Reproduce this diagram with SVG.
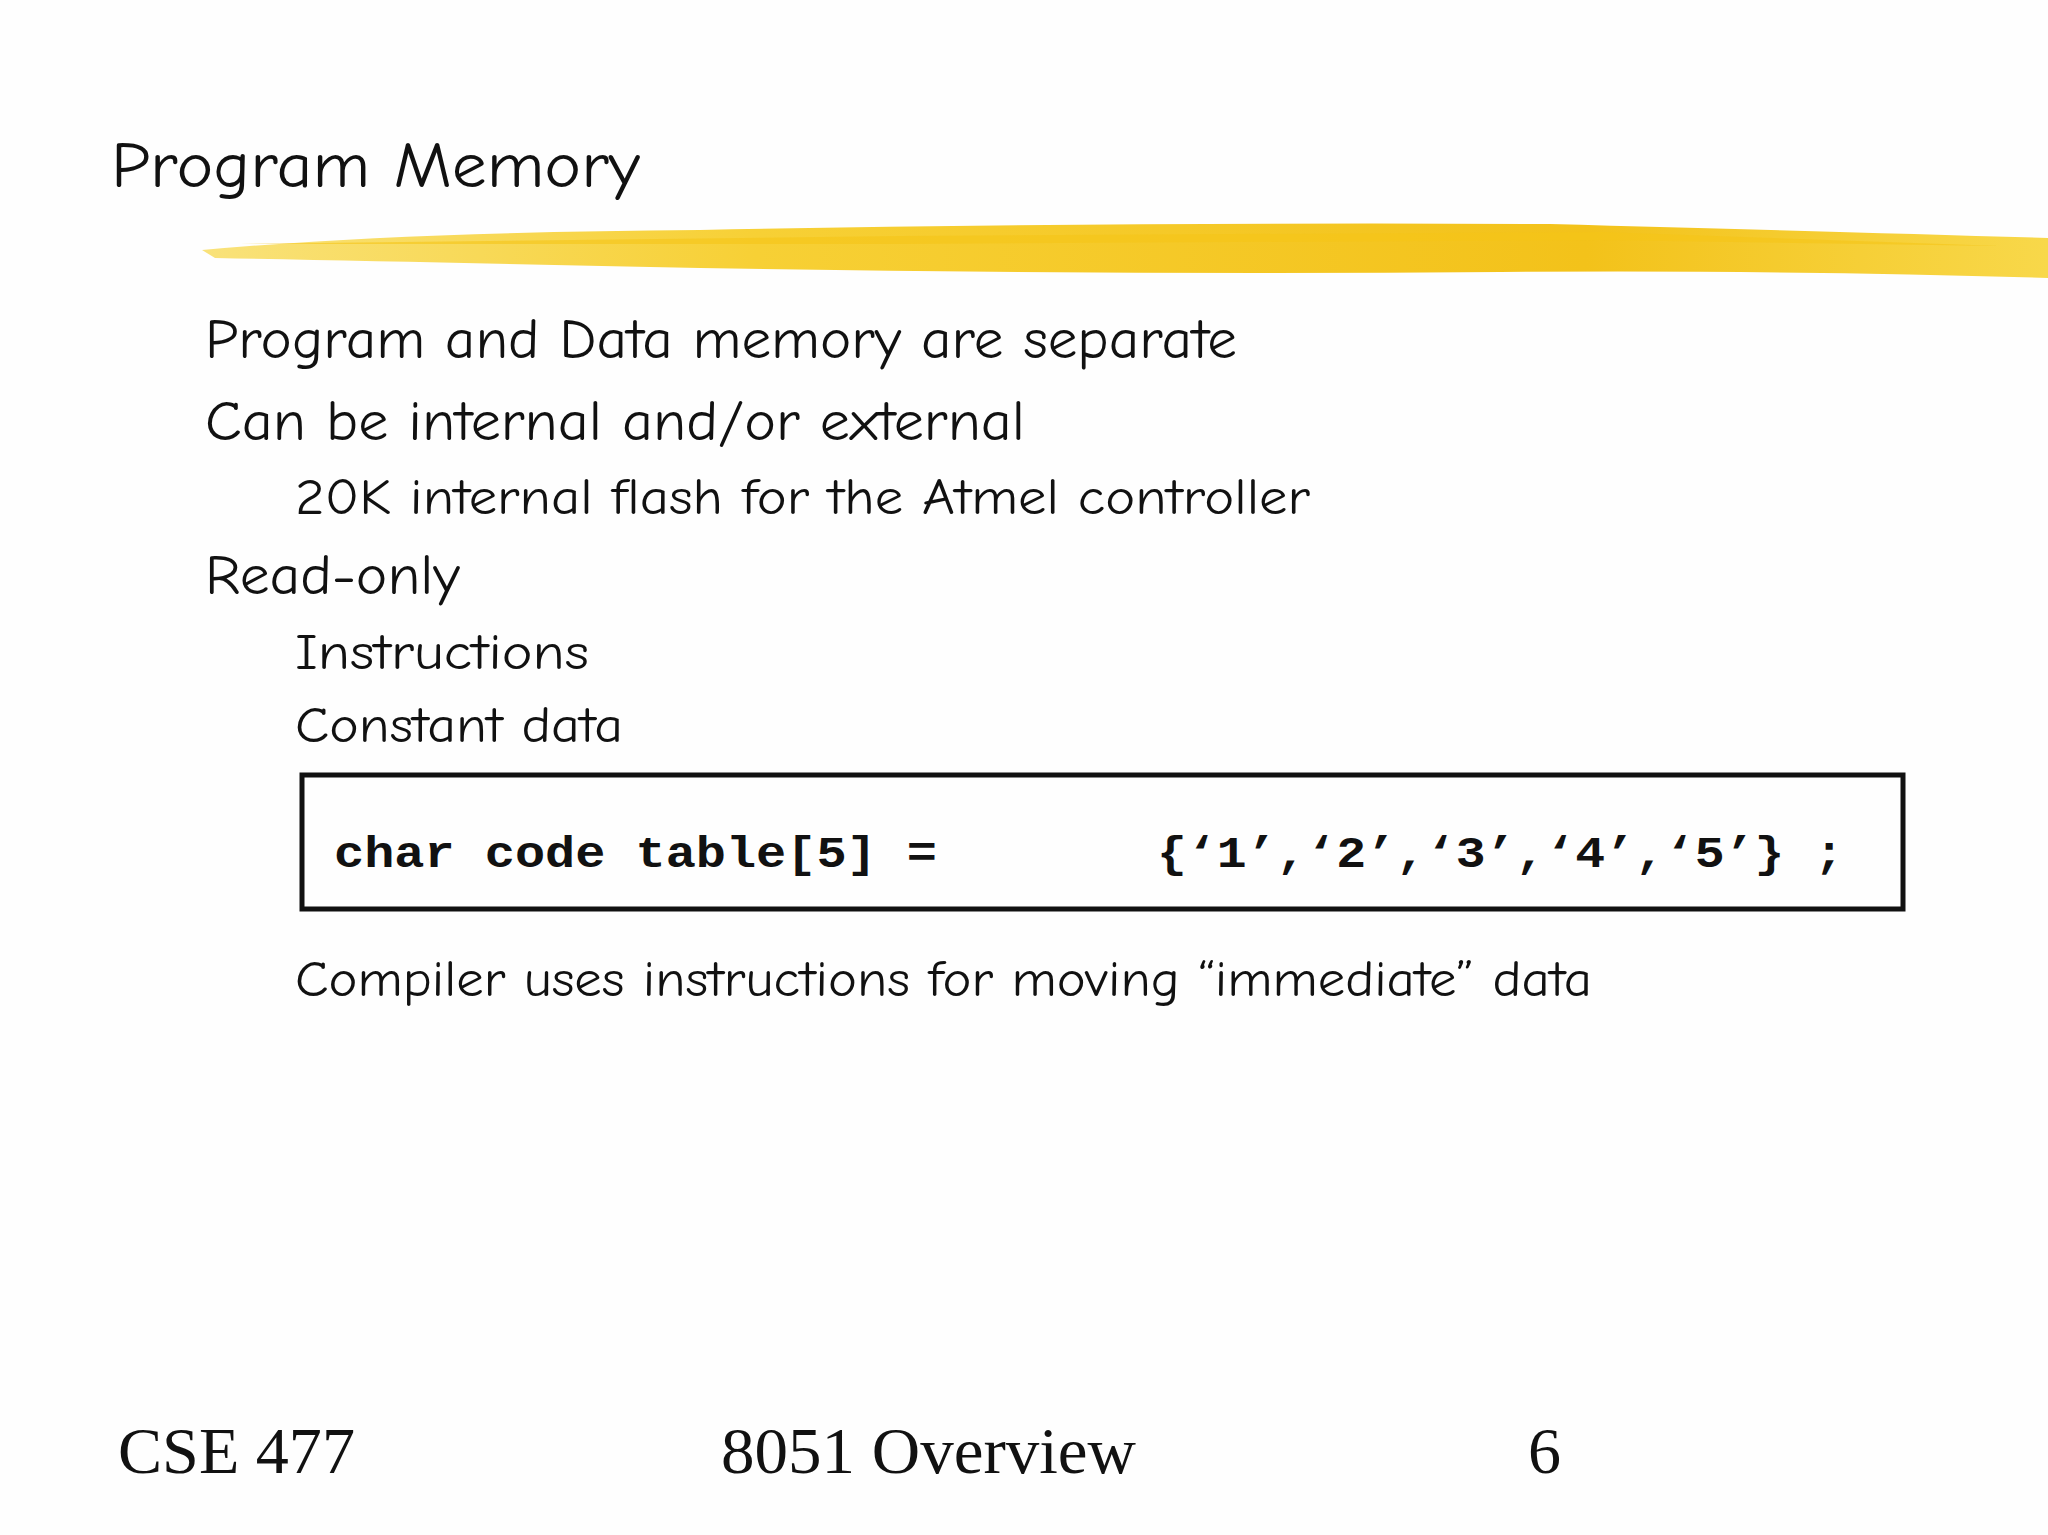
<svg xmlns="http://www.w3.org/2000/svg" width="2048" height="1535" viewBox="0 0 2048 1535">
<style>
.t{font-family:"Comic Neue","Noto Sans",Lato,sans-serif;fill:#111}
.c{font-family:"Liberation Mono",monospace;font-weight:bold;font-size:44px;fill:#111}
.f{font-family:"Liberation Serif",serif;font-size:66px;fill:#111}
</style>
<defs>
<linearGradient id="y" x1="0" y1="0" x2="1" y2="0">
<stop offset="0" stop-color="#f9e27a"/><stop offset="0.3" stop-color="#f7d035"/><stop offset="0.75" stop-color="#f3c21a"/><stop offset="1" stop-color="#f8d84a"/>
</linearGradient>
</defs>
<rect width="2048" height="1535" fill="#fefefe"/>
<g id="brush">
<path d="M202,250 Q400,232 700,230 Q1100,222 1550,224 Q1850,232 2048,238 L2048,278 Q1800,270 1500,272 Q1100,275 700,268 Q420,262 215,258 Z" fill="url(#y)"/>
<path d="M240,244 L900,236 L1600,232 L2000,246 L1600,240 L900,244 Z" fill="#f5c518" opacity="0.6"/>
</g>
<g id="title"><text class="t" x="111" y="187" font-size="64" textLength="529" lengthAdjust="spacingAndGlyphs">Program Memory</text></g>
<g id="bullets">
<text class="t" x="205" y="358" font-size="57" textLength="1032" lengthAdjust="spacingAndGlyphs">Program and Data memory are separate</text>
<text class="t" x="205" y="440" font-size="57" textLength="820" lengthAdjust="spacingAndGlyphs">Can be internal and/or external</text>
<text class="t" x="295" y="514" font-size="50" textLength="1015" lengthAdjust="spacingAndGlyphs">20K internal flash for the Atmel controller</text>
<text class="t" x="205" y="594" font-size="57" textLength="255" lengthAdjust="spacingAndGlyphs">Read-only</text>
<text class="t" x="295" y="669" font-size="50" textLength="294" lengthAdjust="spacingAndGlyphs">Instructions</text>
<text class="t" x="295" y="742" font-size="50" textLength="328" lengthAdjust="spacingAndGlyphs">Constant data</text>
<text class="t" x="295" y="996" font-size="50" textLength="1297" lengthAdjust="spacingAndGlyphs">Compiler uses instructions for moving “immediate” data</text>
</g>
<g id="codebox">
<rect x="302" y="775" width="1601" height="134" fill="none" stroke="#111" stroke-width="5"/>
<text class="c" x="334" y="867" textLength="603" lengthAdjust="spacingAndGlyphs">char code table[5] =</text>
<text class="c" x="1157" y="867" textLength="687" lengthAdjust="spacingAndGlyphs">{‘1’,‘2’,‘3’,‘4’,‘5’} ;</text>
</g>
<g id="footer">
<text class="f" x="118" y="1473" textLength="237" lengthAdjust="spacingAndGlyphs">CSE 477</text>
<text class="f" x="721" y="1473" textLength="415" lengthAdjust="spacingAndGlyphs">8051 Overview</text>
<text class="f" x="1528" y="1473">6</text>
</g>
</svg>
